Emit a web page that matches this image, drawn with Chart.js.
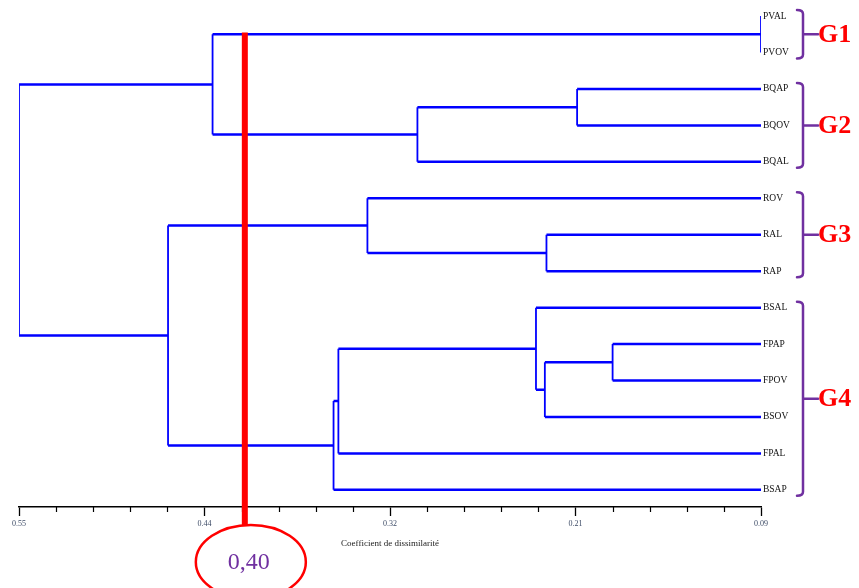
<!DOCTYPE html>
<html lang="fr">
<head>
<meta charset="UTF-8">
<title>Dendrogramme - Coefficient de dissimilarité</title>
<script src="https://cdn.jsdelivr.net/npm/chart.js"></script>
<style>
  html, body { margin: 0; padding: 0; background: #fff; }
  .chart-box { position: relative; width: 859px; height: 588px; }
</style>
</head>
<body>
<div class="chart-box"><canvas id="dendro"></canvas></div>
<script>
// Feuilles (de haut en bas)
const leaves = ['PVAL', 'PVOV', 'BQAP', 'BQOV', 'BQAL', 'ROV', 'RAL', 'RAP',
                'BSAL', 'FPAP', 'FPOV', 'BSOV', 'FPAL', 'BSAP'];
// Fusions : enfant gauche, enfant droit, niveau (indices >= 14 = groupes formés)
const mergeA = [0, 2, 15, 14, 6, 5, 9, 20, 8, 22, 23, 19, 17];
const mergeB = [1, 3, 4, 16, 7, 18, 10, 11, 21, 12, 13, 24, 25];
const mergeLevel = [0.09, 0.204, 0.303, 0.430, 0.223, 0.334, 0.182, 0.224, 0.2295, 0.352, 0.355, 0.4576, 0.55];

// Groupes
const groupNames = ['G1', 'G2', 'G3', 'G4'];
const groupFirst = [0, 2, 5, 8];
const groupLast = [1, 4, 7, 13];

// Axe
const xTickValues = [0.55, 0.435, 0.32, 0.205, 0.09];
const xTickLabels = ['0.55', '0.44', '0.32', '0.21', '0.09'];

// Niveau de coupure
const cutLevel = 0.41;
const cutLabel = '0,40';

// construction des segments
const nodeX = leaves.map(() => 0.09);
const nodeY = leaves.map((_, i) => i);
const gap = { x: null, y: null };
const horiz = [];
const vert = [];
mergeLevel.forEach((h, k) => {
    const a = mergeA[k], b = mergeB[k];
    vert.push({ x: h, y: nodeY[a] }, { x: h, y: nodeY[b] }, gap);
    horiz.push({ x: nodeX[a], y: nodeY[a] }, { x: h, y: nodeY[a] }, gap);
    horiz.push({ x: nodeX[b], y: nodeY[b] }, { x: h, y: nodeY[b] }, gap);
    nodeX.push(h);
    nodeY.push((nodeY[a] + nodeY[b]) / 2);
});

const annotations = {
    id: 'annotations',
    afterDraw(chart) {
        const { ctx, scales: { x, y }, chartArea } = chart;
        ctx.save();

        // petites graduations
        ctx.strokeStyle = '#000';
        ctx.lineWidth = 1.2;
        for (let i = 0; i < xTickValues.length - 1; i++) {
            for (let j = 1; j < 5; j++) {
                const v = xTickValues[i] + (xTickValues[i + 1] - xTickValues[i]) * j / 5;
                const px = Math.round(x.getPixelForValue(v)) + 0.5;
                ctx.beginPath();
                ctx.moveTo(px, x.top);
                ctx.lineTo(px, x.top + 5);
                ctx.stroke();
            }
        }

        // accolades des groupes
        ctx.lineJoin = 'round';
        ctx.lineCap = 'round';
        groupNames.forEach((g, i) => {
            const y1 = y.getPixelForValue(groupFirst[i]);
            const y2 = y.getPixelForValue(groupLast[i]);
            const top = y1 - 6, bot = y2 + 6, mid = (y1 + y2) / 2;
            const bx = chartArea.right + 42;
            ctx.strokeStyle = '#7030a0';
            ctx.lineWidth = 2.5;
            ctx.beginPath();
            ctx.moveTo(bx - 6, top);
            ctx.quadraticCurveTo(bx, top, bx, top + 4);
            ctx.lineTo(bx, bot - 4);
            ctx.quadraticCurveTo(bx, bot, bx - 6, bot);
            ctx.moveTo(bx, mid);
            ctx.lineTo(bx + 15, mid);
            ctx.stroke();
            ctx.fillStyle = '#ff0000';
            ctx.font = 'bold 26px "Liberation Serif"';
            ctx.textAlign = 'left';
            ctx.textBaseline = 'middle';
            ctx.fillText(g, bx + 15, mid + 1);
        });

        // ligne de coupure
        const cx = x.getPixelForValue(cutLevel);
        ctx.lineCap = 'butt';
        ctx.strokeStyle = '#ff0000';
        ctx.lineWidth = 6;
        ctx.beginPath();
        ctx.moveTo(cx, y.getPixelForValue(0.45));
        ctx.lineTo(cx, x.top + 18);
        ctx.stroke();

        ctx.lineWidth = 2.5;
        ctx.beginPath();
        ctx.ellipse(cx + 6, x.top + 55, 55, 37, 0, 0, Math.PI * 2);
        ctx.stroke();
        ctx.fillStyle = '#7030a0';
        ctx.font = '24px "Liberation Serif"';
        ctx.textAlign = 'center';
        ctx.textBaseline = 'middle';
        ctx.fillText(cutLabel, cx + 4, x.top + 56);
        ctx.restore();
    }
};

new Chart(document.getElementById('dendro'), {
    type: 'line',
    data: {
        datasets: [
            { data: horiz, borderColor: '#0000ff', borderWidth: 2.5, pointRadius: 0, spanGaps: false, fill: false },
            { data: vert, borderColor: '#0000ff', borderWidth: 1.8, pointRadius: 0, spanGaps: false, fill: false }
        ]
    },
    options: {
        responsive: true,
        maintainAspectRatio: false,
        animation: false,
        layout: { padding: { left: 19, right: 0, top: 0, bottom: 0 } },
        plugins: { legend: { display: false }, tooltip: { enabled: false } },
        scales: {
            x: {
                type: 'linear',
                reverse: true,
                min: 0.09,
                max: 0.55,
                afterBuildTicks: s => { s.ticks = xTickValues.map(v => ({ value: v })); },
                afterFit: s => { s.height = 81; },
                grid: { display: true, drawOnChartArea: false, drawTicks: true, tickLength: 9, tickColor: '#000', tickWidth: 1.3 },
                border: { display: true, color: '#000', width: 1.5 },
                ticks: {
                    autoSkip: false, maxRotation: 0, padding: 3, color: '#3d4b66',
                    font: { family: 'Liberation Serif', size: 8 },
                    callback: (v, i) => xTickLabels[i]
                },
                title: {
                    display: true, text: 'Coefficient de dissimilarité', color: '#222',
                    font: { family: 'Liberation Serif', size: 9 },
                    padding: { top: 0, bottom: 39 }
                }
            },
            y: {
                type: 'linear',
                position: 'right',
                reverse: true,
                min: -0.44,
                max: 13.47,
                afterBuildTicks: s => { s.ticks = leaves.map((_, i) => ({ value: i })); },
                afterFit: s => { s.width = 98; s.paddingTop = 0; s.paddingBottom = 0; },
                grid: { display: false, drawTicks: false },
                border: { display: false },
                ticks: {
                    autoSkip: false, padding: 2, color: '#111',
                    font: { family: 'Liberation Serif', size: 9.5 },
                    callback: v => leaves[v]
                }
            }
        }
    },
    plugins: [annotations]
});
</script>
</body>
</html>
